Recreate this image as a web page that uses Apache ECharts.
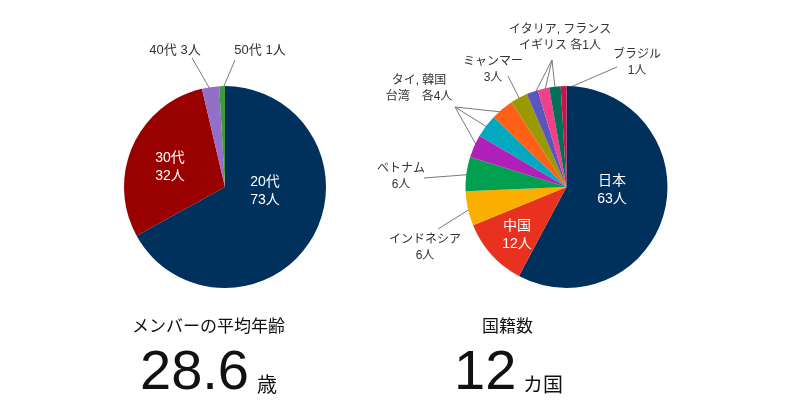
<!DOCTYPE html>
<html>
<head>
<meta charset="utf-8">
<script src="https://cdn.jsdelivr.net/npm/echarts@6/dist/echarts.min.js"></script>
<style>
html, body { margin: 0; padding: 0; background: #fff; }
#main { width: 800px; height: 417px; }
</style>
</head>
<body>
<div id="main"></div>
<script>
// 年代別の人数
const ageNames = ['20代', '30代', '40代', '50代']
const ageValues = [73, 32, 3, 1]
// 国籍別の人数（扇の大きさは図から読み取り）
const countryNames = ['日本', '中国', 'インドネシア', 'ベトナム', 'タイ', '韓国', '台湾', 'ミャンマー', 'イタリア', 'フランス', 'イギリス', 'ブラジル']
const countryValues = [63, 12, 6, 6, 4, 4, 4, 3, 2, 2, 2, 1]
// まとめて表示するラベル
const groupMembers = [['タイ', '韓国', '台湾'], ['イタリア', 'フランス', 'イギリス']]
const groupTexts = ['タイ, 韓国\n台湾　各4人', 'イタリア, フランス\nイギリス 各1人']
// 下の数字
const avgAge = '28.6'
const countryCount = '12'

const ageColors = ['#00305c', '#990000', '#9370c8', '#3e9a3a']
const countryColors = ['#00305c', '#e8311f', '#f9ae00', '#00a050', '#b020b8', '#00a8c0',
  '#ff6018', '#9a9a00', '#5a55c0', '#f0408a', '#007058', '#d0104a']

const jpFont = '"Noto Sans CJK JP", "Noto Sans", sans-serif'
// 数字は欧文フォント、かなと漢字は CJK フォントで
const labelFont = '"Liberation Sans", "Noto Sans CJK JP", sans-serif'
const numFont = '"Liberation Sans", Arial, sans-serif'

const leftCenter = [225, 187]
const rightCenter = [566.5, 187]
const radius = 101

// ラベルの置き場所と引き出し線の起点
const labelAt = {
  '20代': [265, 191], '30代': [170, 167], '40代': [175, 50], '50代': [260, 50],
  '日本': [612, 190], '中国': [517, 235], 'インドネシア': [425, 248], 'ベトナム': [401, 177],
  'タイ': [419, 89], 'ミャンマー': [493, 70], 'イタリア': [560, 38], 'ブラジル': [637, 63]
}
const lineFrom = {
  '40代': [192, 58], '50代': [235, 60], 'インドネシア': [438, 229], 'ベトナム': [424, 178],
  'タイ': [455, 107], 'ミャンマー': [508, 76], 'イタリア': [552, 60], 'ブラジル': [617, 67]
}

function leaderOf(name) {
  for (const g of groupMembers) {
    if (g.includes(name)) return g[0]
  }
  return name
}

function makeLayout(names, values, center) {
  const total = values.reduce((a, b) => a + b, 0)
  return function (params) {
    const i = params.dataIndex
    const key = leaderOf(names[i])
    const pos = labelAt[key]
    if (!pos) return {}
    const out = { x: pos[0], y: pos[1], align: 'center', verticalAlign: 'middle' }
    const from = lineFrom[key]
    if (from) {
      let before = 0
      for (let k = 0; k < i; k++) before += values[k]
      const mid = (before + values[i] / 2) / total * Math.PI * 2
      const r = radius - 4
      const end = [center[0] + Math.sin(mid) * r, center[1] - Math.cos(mid) * r]
      out.labelLinePoints = [from, end]
    }
    return out
  }
}

function buildData(names, values, outsideText) {
  return names.map((name, i) => {
    const v = values[i]
    if (v >= 10) {
      return {
        name: name, value: v,
        label: { position: 'inside', color: '#fff', fontSize: 14, lineHeight: 18, formatter: name + '\n' + v + '人' },
        labelLine: { show: false }
      }
    }
    return { name: name, value: v, label: { formatter: outsideText(name, v) } }
  })
}

const ageData = buildData(ageNames, ageValues, (n, v) => n + ' ' + v + '人')
const countryData = buildData(countryNames, countryValues, (n, v) => {
  for (let g = 0; g < groupMembers.length; g++) {
    const idx = groupMembers[g].indexOf(n)
    if (idx === 0) return groupTexts[g]
    if (idx > 0) return ' '
  }
  return n + '\n' + v + '人'
})

const baseLabel = {
  show: true,
  position: 'outside',
  color: '#333',
  fontFamily: labelFont,
  fontSize: 12,
  lineHeight: 16,
  overflow: 'none'
}

const pieBase = {
  type: 'pie',
  radius: radius,
  startAngle: 90,
  clockwise: true,
  avoidLabelOverlap: false,
  silent: true,
  itemStyle: { borderWidth: 0 },
  label: baseLabel,
  labelLine: { show: true, length: 5, length2: 5, lineStyle: { color: '#7a7a7a', width: 1 } }
}

const chart = echarts.init(document.getElementById('main'))
const option = {
  animation: false,
  backgroundColor: '#fff',
  textStyle: { fontFamily: labelFont },
  series: [
    Object.assign({}, pieBase, {
      center: leftCenter,
      color: ageColors,
      data: ageData,
      label: Object.assign({}, baseLabel, { fontSize: 13 }),
      labelLayout: makeLayout(ageNames, ageValues, leftCenter)
    }),
    Object.assign({}, pieBase, {
      center: rightCenter,
      color: countryColors,
      data: countryData,
      labelLayout: makeLayout(countryNames, countryValues, rightCenter)
    })
  ],
  graphic: [
    { type: 'text', left: 132, top: 317, style: { text: 'メンバーの平均年齢', font: '17px ' + jpFont, fill: '#111' } },
    { type: 'text', left: 140, top: 346, style: { text: avgAge, font: '56px ' + numFont, fill: '#111' } },
    { type: 'text', left: 257, top: 374, style: { text: '歳', font: '20px ' + jpFont, fill: '#111' } },
    { type: 'text', left: 482, top: 317, style: { text: '国籍数', font: '17px ' + jpFont, fill: '#111' } },
    { type: 'text', left: 454, top: 346, style: { text: countryCount, font: '56px ' + numFont, fill: '#111' } },
    { type: 'text', left: 523, top: 374, style: { text: 'カ国', font: '20px ' + jpFont, fill: '#111' } }
  ]
}
chart.setOption(option)
</script>
</body>
</html>
